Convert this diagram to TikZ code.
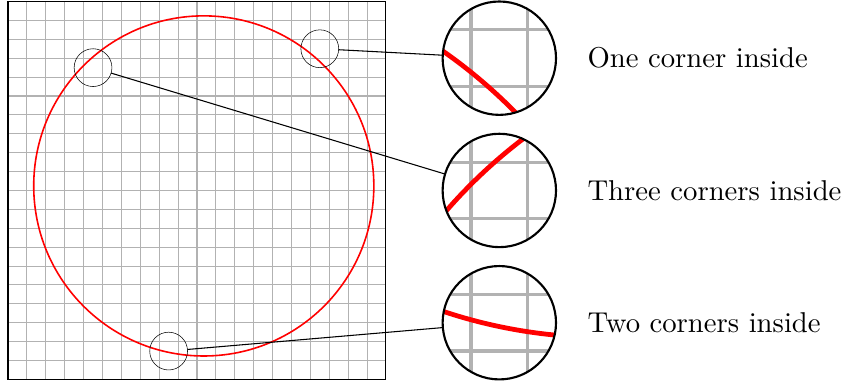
\documentclass[tikz,border=0pt]{standalone}
\usetikzlibrary{spy, positioning}

\begin{document}
\begin{tikzpicture}[
  spy using outlines={circle, magnification=3, size=1.5cm, connect spies},
  font=\fontsize{10.8}{13}\selectfont,
  gridline/.style={gray!60, line width=0.4pt},
  disc/.style={red, semithick},
  caption/.style={anchor=west, inner sep=0pt},
]
  \useasboundingbox (-0.106,-0.046) rectangle (11.1,5.02);

  \draw[gridline, step=0.25] (0,0) grid (5,5);
  \draw (0,0) rectangle (5,5);
  \draw[disc] (2.59,2.56) circle[radius=2.25];

  \node[caption] (one)   at (7.66,4.25) {One corner inside};
  \node[caption] (three) at (7.66,2.5)  {Three corners inside};
  \node[caption] (two)   at (7.66,0.75) {Two corners inside};

  \spy on (4.125,4.375) in node[thick] at (6.5,4.25);
  \spy on (1.125,4.125) in node[thick] at (6.5,2.5);
  \spy on (2.125,0.375) in node[thick] at (6.5,0.75);
\end{tikzpicture}
\end{document}
